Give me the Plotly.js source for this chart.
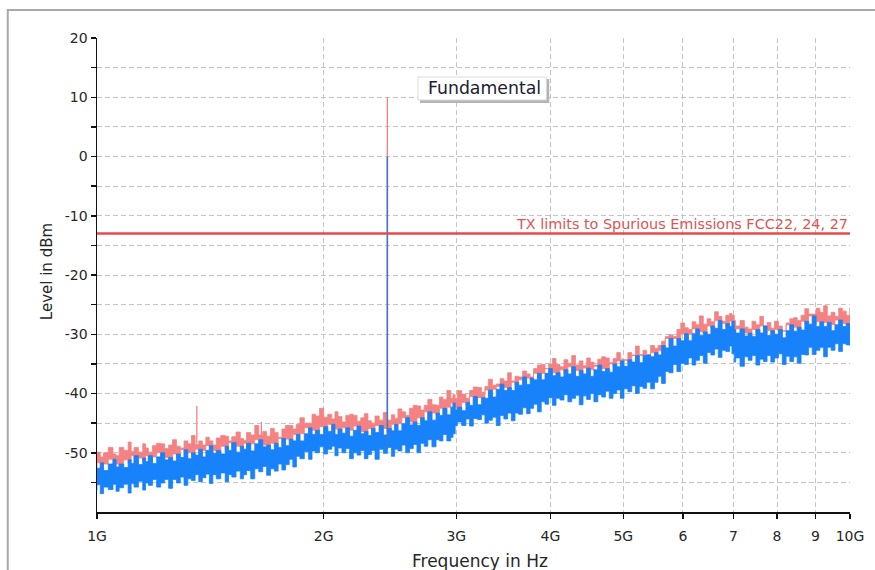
<!DOCTYPE html>
<html>
<head>
<meta charset="utf-8">
<script src="https://cdn.plot.ly/plotly-3.0.1.min.js"></script>
<style>
  html, body { margin: 0; padding: 0; background: #ffffff; }
  #chart { width: 875px; height: 570px; }
</style>
</head>
<body>
<div id="chart"></div>
<script>
// Sweep frequencies (GHz) of the spectrum envelope
const freqGHz = [
  1.00, 1.01, 1.02, 1.035, 1.05, 1.06, 1.07, 1.085, 1.10, 1.11,
  1.12, 1.135, 1.15, 1.16, 1.17, 1.185, 1.20, 1.215, 1.23, 1.245,
  1.26, 1.275, 1.29, 1.305, 1.32, 1.335, 1.35, 1.365, 1.38, 1.395,
  1.41, 1.425, 1.44, 1.46, 1.48, 1.495, 1.51, 1.53, 1.55, 1.565,
  1.58, 1.60, 1.62, 1.64, 1.66, 1.68, 1.70, 1.72, 1.74, 1.76,
  1.78, 1.80, 1.82, 1.84, 1.86, 1.885, 1.91, 1.93, 1.95, 1.975,
  2.00, 2.025, 2.05, 2.07, 2.09, 2.115, 2.14, 2.165, 2.19, 2.215,
  2.24, 2.265, 2.29, 2.315, 2.34, 2.37, 2.40, 2.43, 2.46, 2.485,
  2.51, 2.54, 2.57, 2.60, 2.63, 2.66, 2.69, 2.72, 2.75, 2.785,
  2.82, 2.85, 2.88, 2.915, 2.95, 2.97, 2.99, 3.01, 3.05, 3.09,
  3.125, 3.16, 3.20, 3.24, 3.275, 3.31, 3.35, 3.39, 3.43, 3.47,
  3.51, 3.55, 3.59, 3.63, 3.675, 3.72, 3.76, 3.80, 3.845, 3.89,
  3.935, 3.98, 4.025, 4.07, 4.12, 4.17, 4.22, 4.27, 4.32, 4.37,
  4.42, 4.47, 4.52, 4.57, 4.625, 4.68, 4.735, 4.79, 4.845, 4.90,
  4.955, 5.01, 5.07, 5.13, 5.19, 5.25, 5.31, 5.37, 5.435, 5.50,
  5.56, 5.62, 5.685, 5.75, 5.82, 5.89, 5.96, 6.03, 6.10, 6.17,
  6.24, 6.31, 6.385, 6.46, 6.535, 6.61, 6.685, 6.76, 6.84, 6.92,
  6.97, 7.02, 7.05, 7.145, 7.24, 7.325, 7.41, 7.50, 7.59, 7.675,
  7.76, 7.85, 7.94, 8.035, 8.13, 8.225, 8.32, 8.415, 8.51, 8.61,
  8.71, 8.81, 8.91, 9.015, 9.12, 9.225, 9.33, 9.44, 9.55, 9.66,
  9.77, 9.885, 10.0
];

// Max-hold trace, upper edge (dBm)
const maxHoldTop = [
  -49.9, -50.7, -50.0, -49.1, -50.2, -50.5, -49.1, -49.6, -48.2, -49.8,
  -49.1, -49.9, -48.5, -49.2, -49.9, -48.8, -48.4, -48.5, -49.3, -48.7,
  -47.8, -48.9, -49.2, -48.0, -48.5, -47.1, -48.6, -48.0, -48.7, -47.4,
  -48.0, -48.7, -47.5, -47.1, -47.2, -48.0, -47.3, -46.5, -47.6, -47.9,
  -46.6, -47.0, -45.4, -47.0, -46.4, -47.2, -45.9, -46.6, -47.4, -46.0,
  -45.4, -45.4, -46.0, -45.2, -44.1, -45.0, -45.0, -43.5, -43.8, -42.5,
  -44.0, -43.5, -44.3, -43.1, -43.9, -44.8, -43.7, -43.5, -43.7, -44.7,
  -44.1, -43.4, -44.6, -45.0, -43.8, -44.5, -43.2, -44.5, -43.6, -44.2,
  -42.6, -43.1, -43.7, -42.5, -42.0, -42.1, -42.8, -42.0, -41.0, -41.9,
  -42.0, -40.6, -41.0, -39.5, -40.8, -40.2, -40.9, -39.5, -40.1, -40.8,
  -39.5, -38.9, -39.0, -39.8, -38.8, -37.6, -38.6, -38.8, -37.5, -37.9,
  -36.5, -37.9, -37.1, -37.7, -36.2, -36.7, -37.2, -35.8, -35.2, -35.1,
  -35.8, -35.0, -34.1, -35.1, -35.5, -34.3, -34.9, -33.6, -35.2, -34.5,
  -35.3, -34.0, -34.7, -35.4, -34.2, -33.8, -34.0, -34.8, -34.1, -33.1,
  -34.2, -34.4, -33.1, -33.5, -32.0, -33.4, -32.7, -33.4, -31.9, -32.4,
  -32.8, -31.2, -30.4, -30.1, -30.4, -29.2, -28.1, -28.9, -29.2, -27.9,
  -28.4, -26.9, -28.3, -27.4, -27.9, -26.2, -27.0, -27.8, -26.8, -26.5,
  -26.8, -27.7, -28.6, -27.7, -28.8, -29.1, -27.8, -28.4, -27.0, -28.6,
  -28.0, -29.0, -27.8, -28.6, -29.5, -28.1, -27.4, -27.2, -27.7, -26.8,
  -25.7, -26.6, -26.6, -25.6, -26.3, -25.2, -26.9, -26.3, -27.0, -25.6,
  -26.1, -26.8, -25.5
];

// Live level trace, upper and lower edges of the noise band (dBm)
const levelTop = [
  -52.6, -51.7, -53.0, -51.9, -51.1, -52.4, -51.9, -52.5, -51.2, -51.8,
  -50.5, -52.0, -50.9, -51.5, -50.5, -51.8, -50.7, -50.0, -51.2, -50.8,
  -51.4, -50.2, -50.8, -49.5, -51.0, -50.0, -50.4, -49.4, -50.7, -49.6,
  -48.8, -50.1, -49.6, -50.2, -48.9, -49.6, -48.3, -49.9, -48.9, -49.4,
  -48.4, -49.7, -48.5, -47.8, -49.0, -48.7, -49.5, -48.4, -49.1, -47.6,
  -48.8, -47.7, -48.0, -46.9, -48.0, -46.8, -45.8, -46.9, -46.2, -46.9,
  -45.6, -46.4, -45.2, -46.9, -46.0, -46.7, -45.8, -47.2, -46.2, -45.5,
  -46.8, -46.4, -47.1, -45.9, -46.6, -45.4, -47.0, -45.9, -46.3, -45.2,
  -46.3, -45.1, -44.1, -45.3, -44.8, -45.4, -44.1, -44.6, -43.1, -44.5,
  -43.3, -43.7, -42.5, -43.6, -42.3, -41.6, -42.8, -42.3, -42.9, -41.5,
  -42.0, -40.5, -41.9, -40.7, -40.8, -39.4, -40.6, -39.3, -38.4, -39.5,
  -39.0, -39.5, -38.1, -38.6, -37.2, -38.5, -37.4, -37.7, -36.6, -37.7,
  -36.6, -35.8, -37.0, -36.5, -37.2, -36.0, -36.7, -35.5, -37.1, -36.1,
  -36.7, -35.7, -37.1, -36.0, -35.2, -36.3, -35.8, -36.4, -35.0, -35.5,
  -34.5, -35.4, -34.3, -34.7, -33.6, -34.8, -33.6, -33.5, -33.8, -33.1,
  -33.5, -31.9, -32.3, -30.7, -32.0, -30.7, -31.1, -29.9, -31.1, -29.9,
  -29.1, -30.2, -29.6, -30.0, -28.6, -29.0, -27.7, -29.2, -28.2, -28.7,
  -27.8, -29.2, -29.8, -29.1, -30.3, -29.8, -30.4, -29.2, -29.8, -28.6,
  -30.2, -29.4, -30.0, -29.2, -30.6, -29.4, -28.4, -29.5, -28.8, -29.3,
  -27.8, -28.3, -26.9, -28.7, -27.9, -28.7, -28.0, -29.4, -28.4, -27.6,
  -28.7, -28.2, -28.8
];
const levelBottom = [
  -56.3, -55.4, -56.9, -55.8, -56.2, -55.3, -56.5, -55.9, -55.3, -56.8,
  -55.2, -55.8, -54.8, -56.3, -55.1, -55.5, -54.5, -55.8, -55.1, -54.5,
  -56.0, -54.5, -55.1, -54.1, -55.5, -54.4, -54.7, -53.7, -54.9, -54.2,
  -53.6, -55.2, -53.7, -54.4, -53.4, -54.9, -53.7, -54.1, -53.1, -54.4,
  -53.7, -53.0, -54.4, -52.7, -53.2, -52.3, -53.8, -52.7, -53.1, -51.9,
  -52.9, -52.0, -51.1, -52.4, -50.6, -51.0, -49.8, -51.1, -49.7, -50.0,
  -49.0, -50.2, -49.4, -48.9, -50.5, -49.2, -50.0, -49.3, -51.0, -50.0,
  -50.4, -49.6, -51.0, -50.3, -49.6, -51.1, -49.4, -50.1, -49.1, -50.6,
  -49.4, -49.7, -48.7, -50.0, -49.3, -48.6, -50.0, -48.4, -48.9, -47.8,
  -49.0, -47.8, -48.0, -46.9, -48.0, -47.4, -46.8, -45.4, -44.8, -45.4,
  -44.3, -45.5, -44.2, -44.4, -43.6, -45.0, -44.5, -44.0, -45.4, -43.7,
  -44.3, -43.3, -44.6, -43.3, -43.5, -42.4, -43.4, -42.5, -41.8, -43.1,
  -41.4, -41.8, -40.7, -42.0, -40.8, -41.1, -40.2, -41.4, -40.8, -40.3,
  -41.9, -40.4, -41.0, -40.0, -41.4, -40.2, -40.6, -39.6, -40.8, -40.0,
  -39.4, -40.8, -39.2, -39.7, -38.7, -40.0, -38.8, -39.1, -38.1, -39.2,
  -38.1, -37.1, -38.3, -36.3, -36.5, -35.1, -36.3, -34.9, -35.1, -34.0,
  -35.2, -34.4, -33.6, -34.9, -33.1, -33.5, -32.5, -33.9, -32.7, -32.9,
  -32.0, -33.3, -34.7, -34.0, -35.4, -33.8, -34.4, -33.6, -35.2, -34.2,
  -34.6, -33.6, -34.7, -34.0, -33.3, -35.1, -33.7, -34.6, -33.8, -34.9,
  -33.4, -33.5, -32.2, -33.4, -32.7, -32.2, -33.8, -32.2, -32.7, -31.6,
  -32.9, -31.6, -31.8
];

// Narrow emissions caught by the max-hold trace
const spikeFreqGHz = [1.357, 1.653, 2.43];
const spikeBase    = [-48.5, -47.0, -46.5];
const spikeMaxHold = [-42.1, -44.8, 10];

// Carrier in the live trace
const fundamentalFreqGHz = 2.43;
const fundamentalBase = -49.5;
const fundamentalLevel = 0;

// Spurious emission limit
const limitLevel = -13;
const limitLabel = 'TX limits to Spurious Emissions FCC22, 24, 27';
const fundamentalLabel = 'Fundamental';
const xTitle = 'Frequency in Hz';
const yTitle = 'Level in dBm';

// Axis ticks
const xTickVals = [1, 2, 3, 4, 5, 6, 7, 8, 9, 10];
const xTickText = ['1G', '2G', '3G', '4G', '5G', '6', '7', '8', '9', '10G'];
const yTickVals = [-50, -40, -30, -20, -10, 0, 10, 20];
const yTickText = ['-50', '-40', '-30', '-20', '-10', '0', '10', '20'];
const yMinorVals = [-55, -45, -35, -25, -15, -5, 5, 15];

// Closed outline between two edges for a filled band
function band(xs, upper, lower) {
  return {
    x: xs.concat(xs.slice().reverse()),
    y: upper.concat(lower.slice().reverse())
  };
}

// Vertical segments for isolated lines
function sticks(xs, lows, highs) {
  const x = [], y = [];
  xs.forEach((f, i) => {
    x.push(f, f, null);
    y.push(lows[i], highs[i], null);
  });
  return { x, y };
}

const maxBand = band(freqGHz, maxHoldTop, levelTop);
const liveBand = band(freqGHz, levelTop, levelBottom);
const maxSticks = sticks(spikeFreqGHz, spikeBase, spikeMaxHold);
const carrier = sticks([fundamentalFreqGHz], [fundamentalBase], [fundamentalLevel]);

const RED_TRACE = '#f48282';
const BLUE_TRACE = '#1782fa';

const traces = [
  {
    x: maxBand.x, y: maxBand.y, type: 'scatter', mode: 'lines',
    fill: 'toself', fillcolor: RED_TRACE,
    line: { color: RED_TRACE, width: 0.8, shape: 'hv' }, hoverinfo: 'skip', showlegend: false
  },
  {
    x: maxSticks.x, y: maxSticks.y, type: 'scatter', mode: 'lines',
    line: { color: RED_TRACE, width: 1.3 }, hoverinfo: 'skip', showlegend: false
  },
  {
    x: liveBand.x, y: liveBand.y, type: 'scatter', mode: 'lines',
    fill: 'toself', fillcolor: BLUE_TRACE,
    line: { color: BLUE_TRACE, width: 0.8, shape: 'hv' }, hoverinfo: 'skip', showlegend: false
  },
  {
    x: carrier.x, y: carrier.y, type: 'scatter', mode: 'lines',
    line: { color: '#3a7fc8', width: 1.6 }, hoverinfo: 'skip', showlegend: false
  },
  {
    x: [freqGHz[0], freqGHz[freqGHz.length - 1]], y: [limitLevel, limitLevel],
    type: 'scatter', mode: 'lines',
    line: { color: '#e84a4a', width: 2.6 }, hoverinfo: 'skip', showlegend: false
  }
];

const GRID = '#c4c4c4';
const TEXT = '#262626';
const FONT = 'DejaVu Sans, sans-serif';

const layout = {
  width: 875, height: 570,
  margin: { l: 97, r: 25, t: 38, b: 58 },
  paper_bgcolor: '#ffffff', plot_bgcolor: '#ffffff',
  showlegend: false,
  font: { family: FONT, size: 14, color: TEXT },
  xaxis: {
    type: 'log', range: [0, 1],
    tickmode: 'array', tickvals: xTickVals, ticktext: xTickText,
    ticks: 'outside', ticklen: 5, tickwidth: 1.5, tickcolor: '#111',
    ticklabelstandoff: 6,
    showline: true, linecolor: '#111', linewidth: 1.5,
    showgrid: true, gridcolor: GRID, gridwidth: 1, griddash: '5px,3px',
    zeroline: false,
    tickfont: { family: FONT, size: 14, color: TEXT }
  },
  yaxis: {
    range: [-60, 20],
    tickmode: 'array', tickvals: yTickVals, ticktext: yTickText,
    ticks: 'outside', ticklen: 5, tickwidth: 1.5, tickcolor: '#111',
    showline: true, linecolor: '#111', linewidth: 1.5,
    showgrid: true, gridcolor: GRID, gridwidth: 1, griddash: '5px,3px',
    zeroline: false,
    minor: {
      tickmode: 'array', tickvals: yMinorVals,
      ticks: 'outside', ticklen: 5, tickwidth: 1.5, tickcolor: '#111',
      showgrid: true, gridcolor: GRID, gridwidth: 1, griddash: '5px,3px'
    },
    tickfont: { family: FONT, size: 14, color: TEXT }
  },
  shapes: [
    // panel frame (left and top edges)
    {
      type: 'path', xref: 'paper', yref: 'paper',
      path: 'M -0.1185,-0.2 L -0.1185,1.059 L 1.1,1.059',
      line: { color: '#a9a9a9', width: 2 }, layer: 'below'
    },
    // label box shadow
    {
      type: 'rect', xref: 'paper', yref: 'paper',
      x0: 0.4289, x1: 0.6006, y0: 0.8629, y1: 0.9136,
      fillcolor: '#b4b4b4', line: { width: 0 }, layer: 'above'
    },
    // label box
    {
      type: 'rect', xref: 'paper', yref: 'paper',
      x0: 0.4263, x1: 0.5967, y0: 0.8692, y1: 0.9177,
      fillcolor: '#ffffff', line: { color: '#dcdcdc', width: 1 }, layer: 'above'
    }
  ],
  annotations: [
    {
      text: fundamentalLabel, xref: 'paper', yref: 'paper',
      x: 0.5150, y: 0.8935, xanchor: 'center', yanchor: 'middle',
      showarrow: false, font: { family: FONT, size: 17.3, color: '#202030' }
    },
    {
      text: limitLabel, xref: 'paper', y: limitLevel, yref: 'y',
      x: 1, xanchor: 'right', yanchor: 'bottom', yshift: 0,
      showarrow: false, font: { family: FONT, size: 14.4, color: '#de5454' }
    },
    // axis titles
    {
      text: xTitle, xref: 'paper', yref: 'paper',
      x: 0.5086, y: -0.1034, xanchor: 'center', yanchor: 'middle',
      showarrow: false, font: { family: FONT, size: 17, color: TEXT }
    },
    {
      text: yTitle, xref: 'paper', yref: 'paper', textangle: -90,
      x: -0.0664, y: 0.506, xanchor: 'center', yanchor: 'middle',
      showarrow: false, font: { family: FONT, size: 15, color: TEXT }
    }
  ]
};

Plotly.newPlot('chart', traces, layout, { staticPlot: true, displayModeBar: false });
</script>
</body>
</html>
